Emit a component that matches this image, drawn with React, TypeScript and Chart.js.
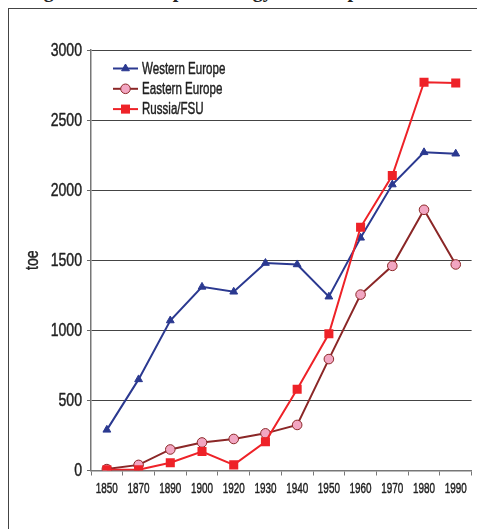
import React, { useEffect, useRef } from 'react';
import { Chart, registerables } from 'chart.js';

Chart.register(...registerables);

// ---- data ----
const years = ['1850', '1870', '1890', '1900', '1920', '1930', '1940', '1950', '1960', '1970', '1980', '1990'];
const westernEurope = [290, 650, 1070, 1310, 1275, 1480, 1470, 1240, 1660, 2040, 2270, 2260];
const easternEurope = [10, 40, 150, 200, 225, 265, 325, 795, 1255, 1460, 1860, 1470];
const russiaFSU = [5, 5, 55, 135, 40, 205, 580, 975, 1735, 2105, 2770, 2765];
const yMin = 0;
const yMax = 3000;
const yStep = 500;
const yTitle = 'toe';
const seriesNames = ['Western Europe', 'Eastern Europe', 'Russia/FSU'];
const figureTitle = 'Figure 4. Per capita energy consumption';

const FONT = '"Liberation Sans", Arial, sans-serif';

const BLUE = '#2b3990';
const MAROON = '#8b2727';
const PINK = '#f2a6c2';
const RED = '#ee2228';
const TEXT = '#222';

// draw horizontally condensed, medium-weight text (the original uses a condensed face)
function condensedText(
  ctx: CanvasRenderingContext2D,
  text: string,
  x: number,
  y: number,
  size: number,
  sx: number,
  align: CanvasTextAlign,
  rotate = 0,
) {
  ctx.save();
  ctx.translate(x, y);
  if (rotate) ctx.rotate(rotate);
  ctx.scale(sx, 1);
  ctx.font = `${size}px ${FONT}`;
  ctx.fillStyle = TEXT;
  ctx.strokeStyle = TEXT;
  ctx.lineWidth = 0.45;
  ctx.lineJoin = 'round';
  ctx.textAlign = align;
  ctx.textBaseline = 'middle';
  ctx.fillText(text, 0, 0);
  ctx.strokeText(text, 0, 0);
  ctx.restore();
}

const condensedLabels = {
  id: 'condensedLabels',
  afterDraw(chart: any) {
    const ctx = chart.ctx as CanvasRenderingContext2D;
    const ys = chart.scales.y;
    const xs = chart.scales.x;
    ys.ticks.forEach((t: any) => {
      const py = ys.getPixelForValue(t.value);
      condensedText(ctx, String(t.value), ys.right - 9, py + 0.5, 19, 0.74, 'right');
    });
    xs.ticks.forEach((t: any, i: number) => {
      const px = xs.getPixelForTick(i);
      const lbl = xs.getLabelForValue(t.value);
      condensedText(ctx, lbl, px, xs.top + 18.5, 15, 0.66, 'center');
    });
    const ca = chart.chartArea;
    condensedText(ctx, yTitle, 33, (ca.top + ca.bottom) / 2, 18, 0.78, 'center', -Math.PI / 2);
  },
};

const insideLegend = {
  id: 'insideLegend',
  afterDraw(chart: any) {
    const ctx = chart.ctx as CanvasRenderingContext2D;
    const datasets = chart.data.datasets;
    ctx.save();
    datasets.forEach((ds: any, i: number) => {
      const y = 68.5 + i * 20.3;
      const x0 = 113;
      const x1 = 138;
      const xm = (x0 + x1) / 2;
      ctx.strokeStyle = ds.borderColor;
      ctx.lineWidth = ds.borderWidth;
      ctx.beginPath();
      ctx.moveTo(x0, y);
      ctx.lineTo(x1, y);
      ctx.stroke();
      ctx.fillStyle = ds.pointBackgroundColor;
      ctx.strokeStyle = ds.pointBorderColor;
      ctx.lineWidth = ds.pointBorderWidth;
      const r = ds.pointRadius;
      ctx.beginPath();
      if (ds.pointStyle === 'triangle') {
        let rad = 0;
        ctx.moveTo(xm + Math.sin(rad) * r, y - Math.cos(rad) * r);
        rad += (2 * Math.PI) / 3;
        ctx.lineTo(xm + Math.sin(rad) * r, y - Math.cos(rad) * r);
        rad += (2 * Math.PI) / 3;
        ctx.lineTo(xm + Math.sin(rad) * r, y - Math.cos(rad) * r);
        ctx.closePath();
      } else if (ds.pointStyle === 'rect') {
        const s = Math.SQRT1_2 * r;
        ctx.rect(xm - s, y - s, 2 * s, 2 * s);
      } else {
        ctx.arc(xm, y, r, 0, Math.PI * 2);
      }
      ctx.fill();
      if (ds.pointBorderWidth > 0) ctx.stroke();
      condensedText(ctx, ds.label, 142, y + 0.5, 17, 0.68, 'left');
    });
    ctx.restore();
  },
};

export default function App() {
  const canvasRef = useRef<HTMLCanvasElement | null>(null);

  useEffect(() => {
    if (!canvasRef.current) return;
    const chart = new Chart(canvasRef.current, {
      type: 'line',
      data: {
        labels: years,
        datasets: [
          {
            label: seriesNames[0],
            data: westernEurope,
            borderColor: BLUE,
            borderWidth: 2,
            pointStyle: 'triangle',
            pointRadius: 4.5,
            pointBackgroundColor: BLUE,
            pointBorderColor: BLUE,
            pointBorderWidth: 1,
            tension: 0,
            order: 2,
          },
          {
            label: seriesNames[1],
            data: easternEurope,
            borderColor: MAROON,
            borderWidth: 2,
            pointStyle: 'circle',
            pointRadius: 4.8,
            pointBackgroundColor: PINK,
            pointBorderColor: MAROON,
            pointBorderWidth: 1,
            tension: 0,
            order: 1,
          },
          {
            label: seriesNames[2],
            data: russiaFSU,
            borderColor: RED,
            borderWidth: 2,
            pointStyle: 'rect',
            pointRadius: 6.4,
            pointBackgroundColor: RED,
            pointBorderColor: RED,
            pointBorderWidth: 0,
            tension: 0,
            order: 0,
          },
        ] as any,
      },
      options: {
        responsive: false,
        animation: false,
        devicePixelRatio: 1,
        layout: { padding: { top: 50, right: 1.5, bottom: 0, left: 0 } },
        plugins: {
          legend: { display: false },
          tooltip: { enabled: false },
          title: { display: false },
        },
        scales: {
          x: {
            type: 'category',
            offset: true,
            grid: {
              display: true,
              offset: true,
              drawOnChartArea: false,
              drawTicks: true,
              tickLength: 5,
              color: '#777',
              lineWidth: 1,
            },
            border: { display: true, color: '#777', width: 1.5 },
            ticks: {
              font: { family: FONT, size: 13 },
              color: 'rgba(0,0,0,0)',
              padding: 5,
              maxRotation: 0,
              autoSkip: false,
            },
            afterFit(scale: any) {
              scale.height = 58.5;
            },
          },
          y: {
            min: yMin,
            max: yMax,
            ticks: {
              stepSize: yStep,
              font: { family: FONT, size: 14 },
              color: 'rgba(0,0,0,0)',
              padding: 5,
              callback: (v: any) => String(v),
            },
            grid: {
              color: (c: any) => (c.tick && c.tick.value === 0 ? 'rgba(0,0,0,0)' : '#444'),
              tickColor: '#666',
              lineWidth: 1,
              drawTicks: true,
              tickLength: 4,
            },
            border: { display: true, color: '#777', width: 1.5 },
            title: { display: false, text: yTitle },
            afterFit(scale: any) {
              scale.width = 91;
            },
          },
        },
      },
      plugins: [condensedLabels, insideLegend],
    });
    return () => chart.destroy();
  }, []);

  return (
    <div
      style={{
        position: 'absolute',
        left: 0,
        top: 0,
        width: 477,
        height: 529,
        overflow: 'hidden',
        background: '#fff',
      }}
    >
      <div
        style={{
          position: 'absolute',
          left: 26,
          top: -20,
          font: 'bold 20px "Liberation Serif", serif',
          lineHeight: '20px',
          whiteSpace: 'nowrap',
          color: '#222',
          wordSpacing: 4,
        }}
      >
        {figureTitle}
      </div>
      <div
        style={{
          position: 'absolute',
          left: 8,
          top: 8,
          width: 560,
          height: 600,
          borderLeft: '1.5px solid #444',
          borderTop: '1.5px solid #444',
          boxSizing: 'border-box',
        }}
      />
      <canvas
        ref={canvasRef}
        width={478}
        height={529}
        style={{ position: 'absolute', left: 0, top: 0, width: 478, height: 529 }}
      />
    </div>
  );
}
